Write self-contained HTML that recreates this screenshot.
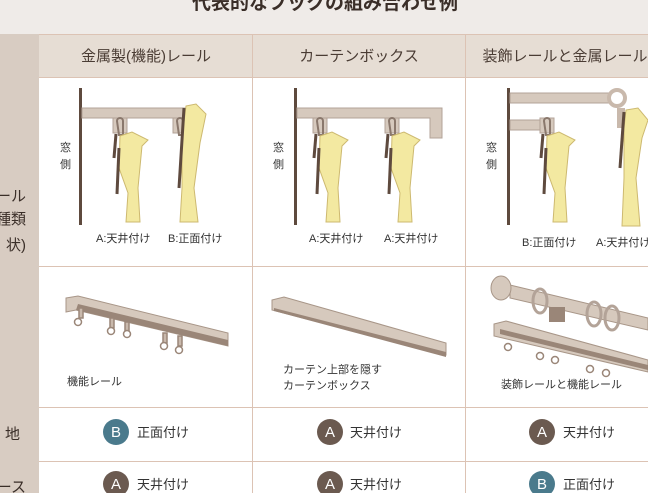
<!DOCTYPE html>
<html><head><meta charset="utf-8"><style>
body{margin:0;width:648px;height:493px;overflow:hidden;background:#fff;font-family:"Liberation Sans","Noto Sans CJK JP",sans-serif}
svg text{font-family:"Liberation Sans","Noto Sans CJK JP",sans-serif}
</style></head><body>
<svg width="648" height="493" viewBox="0 0 648 493" xmlns="http://www.w3.org/2000/svg">
<defs>
<g id="curA">
<rect x="-7" y="0" width="14" height="15" fill="#d6c9bd" stroke="#b3a398"/>
<path d="M-3,3 a3,3 0 1 1 6,0 v14 h-4 z" fill="none" stroke="#8a786c" stroke-width="2"/>
<polygon points="0,18 12,14 28,22 22,28 18,70 20,104 6,104 8,75 -1,50" fill="#f3e9a1" stroke="#cdb970" stroke-width="1"/>
<line x1="-4" y1="16" x2="-6" y2="40" stroke="#5e4a3e" stroke-width="3"/>
<line x1="-1" y1="30" x2="-3" y2="76" stroke="#5e4a3e" stroke-width="3"/>
</g>
<g id="curB">
<rect x="-7" y="0" width="14" height="15" fill="#d6c9bd" stroke="#b3a398"/>
<path d="M-3,3 a3,3 0 1 1 6,0 v14 h-4 z" fill="none" stroke="#8a786c" stroke-width="2"/>
<polygon points="6,-12 16,-14 26,-4 20,25 14,70 18,104 0,104 2,70 2,20" fill="#f3e9a1" stroke="#cdb970" stroke-width="1"/>
<line x1="4" y1="-10" x2="-1" y2="70" stroke="#5e4a3e" stroke-width="3"/>
</g>
</defs>
<rect x="0" y="0" width="648" height="34" fill="#efebe8"/>
<text x="325" y="9" font-size="19" font-weight="bold" fill="#3a2e28" text-anchor="middle">代表的なフックの組み合わせ例</text>
<rect x="0" y="34" width="39" height="459" fill="#d8ccc2"/>
<rect x="39" y="34" width="609" height="43" fill="#e6ddd4"/>
<g font-size="15" fill="#4a3c34" text-anchor="middle">
<text x="146" y="61">金属製(機能)レール</text>
<text x="359" y="61">カーテンボックス</text>
<text x="565" y="61">装飾レールと金属レール</text>
</g>
<g font-size="15" fill="#3a2e28" text-anchor="end">
<text x="26" y="201">ール</text>
<text x="26" y="224">種類</text>
<text x="26" y="250">状)</text>
<text x="20" y="439">地</text>
<text x="26" y="492">ース</text>
</g>
<g stroke="#dcc3b4" stroke-width="1">
<line x1="39" y1="34.5" x2="648" y2="34.5"/>
<line x1="39" y1="77.5" x2="648" y2="77.5"/>
<line x1="39" y1="266.5" x2="648" y2="266.5"/>
<line x1="39" y1="407.5" x2="648" y2="407.5"/>
<line x1="39" y1="461.5" x2="648" y2="461.5"/>
<line x1="252.5" y1="34" x2="252.5" y2="493"/>
<line x1="465.5" y1="34" x2="465.5" y2="493"/>
</g>
<rect x="79" y="88" width="3" height="137" fill="#5e4a3e"/>
<rect x="82" y="108" width="106" height="10" fill="#d6c9bd" stroke="#b3a398"/>
<use href="#curA" x="120" y="118"/>
<use href="#curB" x="180" y="118"/>
<g font-size="11" fill="#333"><text x="60" y="151">窓</text><text x="60" y="168">側</text>
<text x="96" y="242">A:天井付け</text><text x="168" y="242">B:正面付け</text></g>
<rect x="294" y="88" width="3" height="137" fill="#5e4a3e"/>
<path d="M297,108 H442 V138 H430 V118 H297 Z" fill="#d6c9bd" stroke="#b3a398"/>
<use href="#curA" x="320" y="118"/>
<use href="#curA" x="392" y="118"/>
<g font-size="11" fill="#333"><text x="273" y="151">窓</text><text x="273" y="168">側</text>
<text x="309" y="242">A:天井付け</text><text x="384" y="242">A:天井付け</text></g>
<rect x="507" y="88" width="3" height="137" fill="#5e4a3e"/>
<rect x="510" y="93" width="100" height="10" fill="#d6c9bd" stroke="#b3a398"/>
<circle cx="617" cy="98" r="8" fill="none" stroke="#c9b9ac" stroke-width="4"/>
<rect x="510" y="120" width="32" height="10" fill="#d6c9bd" stroke="#b3a398"/>
<use href="#curA" x="547" y="118"/>
<g transform="translate(622,108)">
<rect x="-5" y="0" width="8" height="20" fill="#c9b9ac"/>
<polygon points="4,2 16,0 26,12 20,30 14,70 18,118 0,118 2,70 2,20" fill="#f3e9a1" stroke="#cdb970"/>
<line x1="2" y1="4" x2="-2" y2="60" stroke="#5e4a3e" stroke-width="3"/>
</g>
<g font-size="11" fill="#333"><text x="486" y="151">窓</text><text x="486" y="168">側</text>
<text x="522" y="246">B:正面付け</text><text x="596" y="246">A:天井付け</text></g>
<polygon points="66,298 78,296 228,333 228,346 76,310 66,312" fill="#d6c9bd" stroke="#a89688"/>
<polygon points="76,310 228,346 228,340 78,304" fill="#9a8678"/>
<g fill="#fff" stroke="#9a8678" stroke-width="1.5">
<rect x="79" y="308" width="4" height="10" fill="#c9b9ac"/><circle cx="78" cy="322" r="3.5"/>
<rect x="110" y="318" width="4" height="10" fill="#c9b9ac"/><circle cx="111" cy="331" r="3.5"/>
<rect x="125" y="322" width="4" height="10" fill="#c9b9ac"/><circle cx="127" cy="334" r="3.5"/>
<rect x="163" y="333" width="4" height="10" fill="#c9b9ac"/><circle cx="164" cy="346" r="3.5"/>
<rect x="178" y="336" width="4" height="10" fill="#c9b9ac"/><circle cx="179" cy="350" r="3.5"/></g>
<text x="67" y="385" font-size="11" fill="#333">機能レール</text>
<polygon points="272,300 284,297 446,343 446,355 272,310" fill="#d6c9bd" stroke="#a89688"/>
<polygon points="274,308 446,352 446,357 274,311" fill="#9a8678"/>
<text x="283" y="373" font-size="11" fill="#333">カーテン上部を隠す</text>
<text x="283" y="389" font-size="11" fill="#333">カーテンボックス</text>
<polygon points="510,285 648,318 648,330 510,298" fill="#d6c9bd" stroke="#a89688"/>
<ellipse cx="501" cy="288" rx="10" ry="12" fill="#d6c9bd" stroke="#a89688"/>
<rect x="549" y="307" width="16" height="15" fill="#9a8678"/>
<g fill="none" stroke="#b3a398" stroke-width="3">
<ellipse cx="540" cy="301" rx="7" ry="12"/><ellipse cx="594" cy="314" rx="7" ry="12"/><ellipse cx="612" cy="318" rx="7" ry="12"/></g>
<polygon points="494,324 506,321 648,360 648,372 494,336" fill="#d6c9bd" stroke="#a89688"/>
<polygon points="500,334 648,370 648,365 500,329" fill="#9a8678"/>
<g fill="#fff" stroke="#9a8678" stroke-width="1.5">
<circle cx="508" cy="347" r="3.5"/><circle cx="540" cy="356" r="3.5"/><circle cx="555" cy="360" r="3.5"/><circle cx="590" cy="369" r="3.5"/><circle cx="606" cy="373" r="3.5"/></g>
<text x="501" y="388" font-size="11" fill="#333">装飾レールと機能レール</text>
<g font-size="13" fill="#333">
<circle cx="116" cy="432" r="13" fill="#4a7a8c"/><text x="116" y="437" fill="#fff" text-anchor="middle" font-size="15">B</text><text x="137" y="437">正面付け</text>
<circle cx="330" cy="432" r="13" fill="#6b5a50"/><text x="330" y="437" fill="#fff" text-anchor="middle" font-size="15">A</text><text x="350" y="437">天井付け</text>
<circle cx="542" cy="432" r="13" fill="#6b5a50"/><text x="542" y="437" fill="#fff" text-anchor="middle" font-size="15">A</text><text x="563" y="437">天井付け</text>
<circle cx="116" cy="484" r="13" fill="#6b5a50"/><text x="116" y="489" fill="#fff" text-anchor="middle" font-size="15">A</text><text x="137" y="489">天井付け</text>
<circle cx="330" cy="484" r="13" fill="#6b5a50"/><text x="330" y="489" fill="#fff" text-anchor="middle" font-size="15">A</text><text x="350" y="489">天井付け</text>
<circle cx="542" cy="484" r="13" fill="#4a7a8c"/><text x="542" y="489" fill="#fff" text-anchor="middle" font-size="15">B</text><text x="563" y="489">正面付け</text>
</g>
</svg>
</body></html>
